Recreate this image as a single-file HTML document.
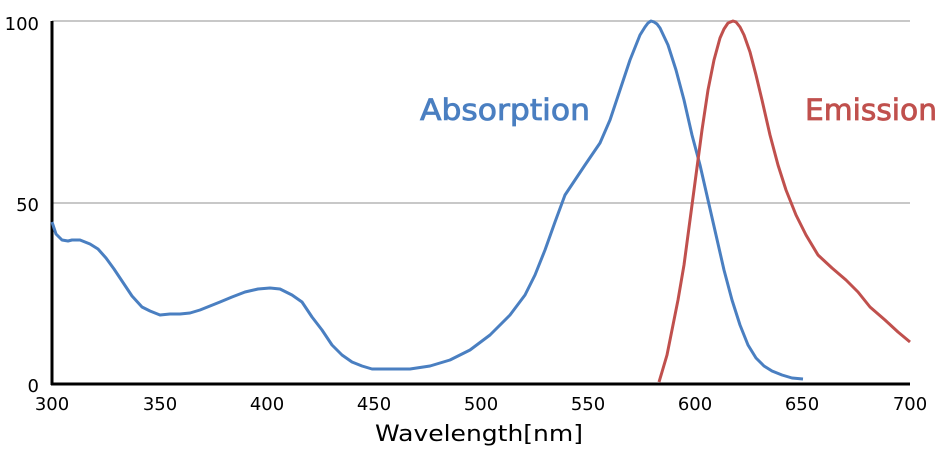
<!DOCTYPE html>
<html><head><meta charset="utf-8"><style>
html,body{margin:0;padding:0;background:#fff;}
svg{display:block;font-family:"DejaVu Sans","Liberation Sans",sans-serif;}
</style></head><body>
<svg width="950" height="470" viewBox="0 0 950 470">
<line x1="52" y1="21" x2="910" y2="21" stroke="#c8c8c8" stroke-width="2"/>
<line x1="52" y1="203" x2="910" y2="203" stroke="#c8c8c8" stroke-width="2"/>
<line x1="52" y1="21" x2="52" y2="385" stroke="#000" stroke-width="3"/>
<line x1="51" y1="384" x2="910" y2="384" stroke="#000" stroke-width="3"/>
<g font-size="18" fill="#000" text-anchor="end">
<text x="39" y="30">100</text><text x="39" y="211">50</text><text x="39" y="392">0</text>
</g>
<g font-size="18" fill="#000" text-anchor="middle">
<text x="52" y="410">300</text><text x="160" y="410">350</text><text x="267" y="410">400</text>
<text x="374" y="410">450</text><text x="481" y="410">500</text><text x="588" y="410">550</text>
<text x="695" y="410">600</text><text x="802" y="410">650</text><text x="910" y="410">700</text>
</g>
<text x="375" y="441" font-size="22" fill="#000" textLength="208" lengthAdjust="spacingAndGlyphs">Wavelength[nm]</text>
<polyline fill="none" stroke="#4a7fc1" stroke-width="3" stroke-linejoin="round" points="52,222 56,234 62,240 68,241 72,240 80,240 90,244 98,249 106,258 114,269 124,284 132,296 142,307 150,311 160,315 170,314 180,314 190,313 200,310 210,306 220,302 232,297 245,292 258,289 270,288 280,289 292,295 302,302 312,317 322,330 332,345 342,355 352,362 362,366 372,369 390,369 410,369 430,366 450,360 470,350 490,335 510,315 525,295 535,275 545,250 555,222 565,195 575,180 585,165 600,143 610,120 620,90 630,60 640,35 645,27 648,23 651,21 654,22 657,24 660,28 668,45 676,70 684,100 692,135 700,165 708,200 716,235 724,270 732,300 740,325 748,345 756,358 764,366 772,371 782,375 792,378 803,379"/>
<polyline fill="none" stroke="#c0504d" stroke-width="3" stroke-linejoin="round" points="659,382 662,372 667,355 672,330 678,300 684,265 690,220 696,175 702,130 708,90 714,60 720,38 724,29 728,23 733,21 736,22 740,27 744,35 750,52 756,75 762,100 770,135 778,165 786,190 796,215 806,235 818,255 832,268 846,280 858,292 870,307 885,320 898,332 910,342"/>
<text x="420" y="120" font-size="29" fill="#4a7fc1" stroke="#4a7fc1" stroke-width="0.8" textLength="170" lengthAdjust="spacingAndGlyphs">Absorption</text>
<text x="805" y="120" font-size="29" fill="#c0504d" stroke="#c0504d" stroke-width="0.8" textLength="132" lengthAdjust="spacingAndGlyphs">Emission</text>
</svg>
</body></html>
